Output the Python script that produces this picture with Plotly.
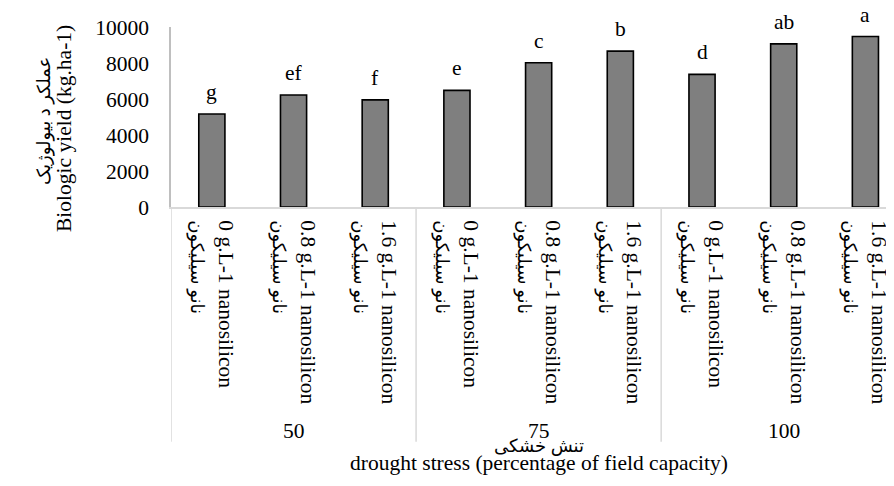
import plotly.graph_objects as go

# drought stress groups (percentage of field capacity) and nanosilicon doses
stress_levels = ["50", "75", "100"]
doses_en = ["0 g.L-1 nanosilicon", "0.8 g.L-1 nanosilicon", "1.6 g.L-1 nanosilicon"]
dose_fa = "نانو سیلیکون"
yield_values = [5170, 6220, 5950, 6480, 8010, 8660, 7370, 9060, 9470]
letters = ["g", "ef", "f", "e", "c", "b", "d", "ab", "a"]

FONT = "Times New Roman, Liberation Serif, DejaVu Sans, serif"
FS = 21.5
FS_FA = 18

labels = [f"{d}<br><span style='font-size:{FS_FA}px'>{dose_fa}</span>" for d in doses_en]
labels = labels * len(stress_levels)
xpos = list(range(len(labels)))

fig = go.Figure()

fig.add_trace(go.Bar(
    x=xpos,
    y=yield_values,
    width=0.32,
    marker=dict(color="#7f7f7f", line=dict(color="black", width=1.6)),
    showlegend=False,
    hoverinfo="y",
))

# page body has an 8px margin, so shift the plot up/left by 8px
fig.update_layout(
    width=894,
    height=486,
    margin=dict(l=163, r=8, t=15, b=287),
    plot_bgcolor="white",
    paper_bgcolor="white",
    font=dict(family=FONT, size=FS, color="black"),
    xaxis=dict(
        range=[-0.5, 8.35],
        tickmode="array",
        tickvals=xpos,
        ticktext=labels,
        tickangle=90,
        showline=True,
        linecolor="#d9d9d9",
        linewidth=2,
        showgrid=False,
        zeroline=False,
        ticks="",
        ticklabelstandoff=7,
        tickfont=dict(size=FS, family=FONT),
    ),
    yaxis=dict(
        range=[0, 10000],
        dtick=2000,
        tickformat="d",
        showgrid=False,
        zeroline=False,
        showline=True,
        linecolor="#bfbfbf",
        linewidth=1.5,
        ticks="",
        ticklabelstandoff=16,
        tickfont=dict(size=FS, family=FONT),
    ),
)

# significance letters above bars
for i, (v, t) in enumerate(zip(yield_values, letters)):
    fig.add_annotation(
        x=i, y=v, text=t, xref="x", yref="y",
        yanchor="bottom", yshift=8, showarrow=False,
        font=dict(size=FS, family=FONT),
    )

# group labels and dividers for the drought stress levels
n = len(doses_en)
for g, level in enumerate(stress_levels):
    fig.add_annotation(
        x=g * n + (n - 1) / 2, y=-1.245, text=level,
        xref="x", yref="paper", yanchor="middle",
        showarrow=False, font=dict(size=FS, family=FONT),
    )
for g in range(len(stress_levels) + 1):
    fig.add_shape(
        type="line", xref="x", yref="paper",
        x0=g * n - 0.5, x1=g * n - 0.5, y0=0, y1=-1.304,
        line=dict(color="#d9d9d9", width=1.5),
    )

# y-axis title (Persian + English)
fig.add_annotation(
    text="عملکر د بیولوژیک",
    xref="paper", yref="paper", x=-0.175, y=0.48,
    xanchor="center", yanchor="middle", textangle=-90,
    showarrow=False, font=dict(size=FS_FA, family=FONT),
)
fig.add_annotation(
    text="Biologic yield (kg.ha-1)",
    xref="paper", yref="paper", x=-0.149, y=0.435,
    xanchor="center", yanchor="middle", textangle=-90,
    showarrow=False, font=dict(size=FS, family=FONT),
)

# x-axis title (Persian line overlaps the group label, as in the source)
fig.add_annotation(
    text="تنش خشکی",
    xref="paper", yref="paper", x=0.5084, y=-1.33,
    xanchor="center", yanchor="middle",
    showarrow=False, font=dict(size=FS_FA, family=FONT),
)
fig.add_annotation(
    text="drought stress (percentage of field capacity)",
    xref="paper", yref="paper", x=0.5084, y=-1.424,
    xanchor="center", yanchor="middle",
    showarrow=False, font=dict(size=FS, family=FONT),
)

fig.write_html("out.html")
